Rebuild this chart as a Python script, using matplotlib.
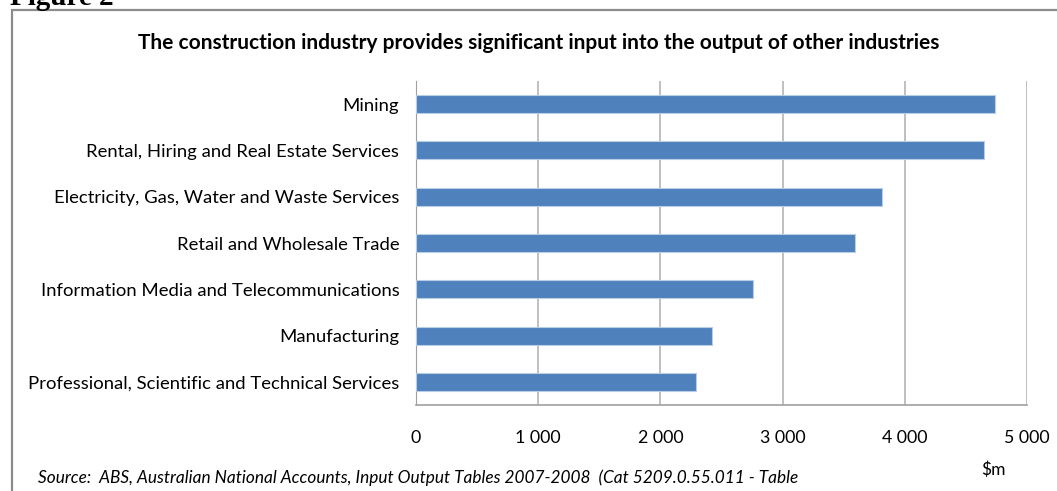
import numpy as np
import matplotlib.pyplot as plt
from matplotlib.patches import Rectangle
from matplotlib.ticker import FuncFormatter

industries = [
    "Mining",
    "Rental, Hiring and Real Estate Services",
    "Electricity, Gas, Water and Waste Services",
    "Retail and Wholesale Trade",
    "Information Media and Telecommunications",
    "Manufacturing",
    "Professional, Scientific and Technical Services",
]
input_value = [4740, 4650, 3810, 3595, 2760, 2420, 2295]  # $m

title = "The construction industry provides significant input into the output of other industries"
source = "Source:  ABS, Australian National Accounts, Input Output Tables 2007-2008  (Cat 5209.0.55.011 - Table"

plt.rcParams['font.family'] = ['Lato', 'DejaVu Sans']

W, H = 1057, 491
fig = plt.figure(figsize=(W / 100, H / 100), dpi=100)

# outer frame of the chart object (runs off the right and bottom edges)
fig.patches.append(Rectangle((12 / W, -0.1), 1.2, 1 - 10 / H + 0.1,
                             transform=fig.transFigure, fill=False,
                             edgecolor='#8c8c8c', linewidth=1.6))

fig.text(10 / W, 1 - 5 / H, "Figure 2", family='Liberation Serif',
         fontweight='bold', fontsize=21, va='baseline', ha='left')

ax = fig.add_axes([416 / W, 1 - 405 / H, (1027 - 416) / W, (405 - 81) / H])

y = np.arange(len(industries))
ax.barh(y, input_value, height=0.39, color='#4f81bd', edgecolor='#b9cde5',
        linewidth=0.8, zorder=3)
ax.set_ylim(len(industries) - 0.5, -0.5)
ax.set_yticks(y)
ax.set_yticklabels(industries, fontsize=13.3)
ax.tick_params(axis='y', length=0, pad=12)

ax.set_xlim(0, 5000)
ax.set_xticks(np.arange(0, 5001, 1000))
ax.xaxis.set_major_formatter(FuncFormatter(lambda v, p: f"{int(v):,}".replace(",", " ")))
ax.tick_params(axis='x', length=0, pad=18, labelsize=12.8)
ax.grid(axis='x', color='#b4b4b4', linewidth=1.2, zorder=0)

for side in ['top', 'right']:
    ax.spines[side].set_visible(False)
ax.spines['left'].set_color('#a0a0a0')
ax.spines['bottom'].set_color('#a0a0a0')
ax.spines['bottom'].set_linewidth(1.2)

fig.text(539 / W, 1 - 43 / H, title, fontsize=15, fontweight='bold',
         ha='center', va='center')
fig.text(993 / W, 1 - 470 / H, "$m", fontsize=12.5, ha='center', va='center')
fig.text(38 / W, 1 - 478 / H, source, fontsize=12.45, style='italic',
         ha='left', va='center')

fig.savefig('out.png', dpi=100)
